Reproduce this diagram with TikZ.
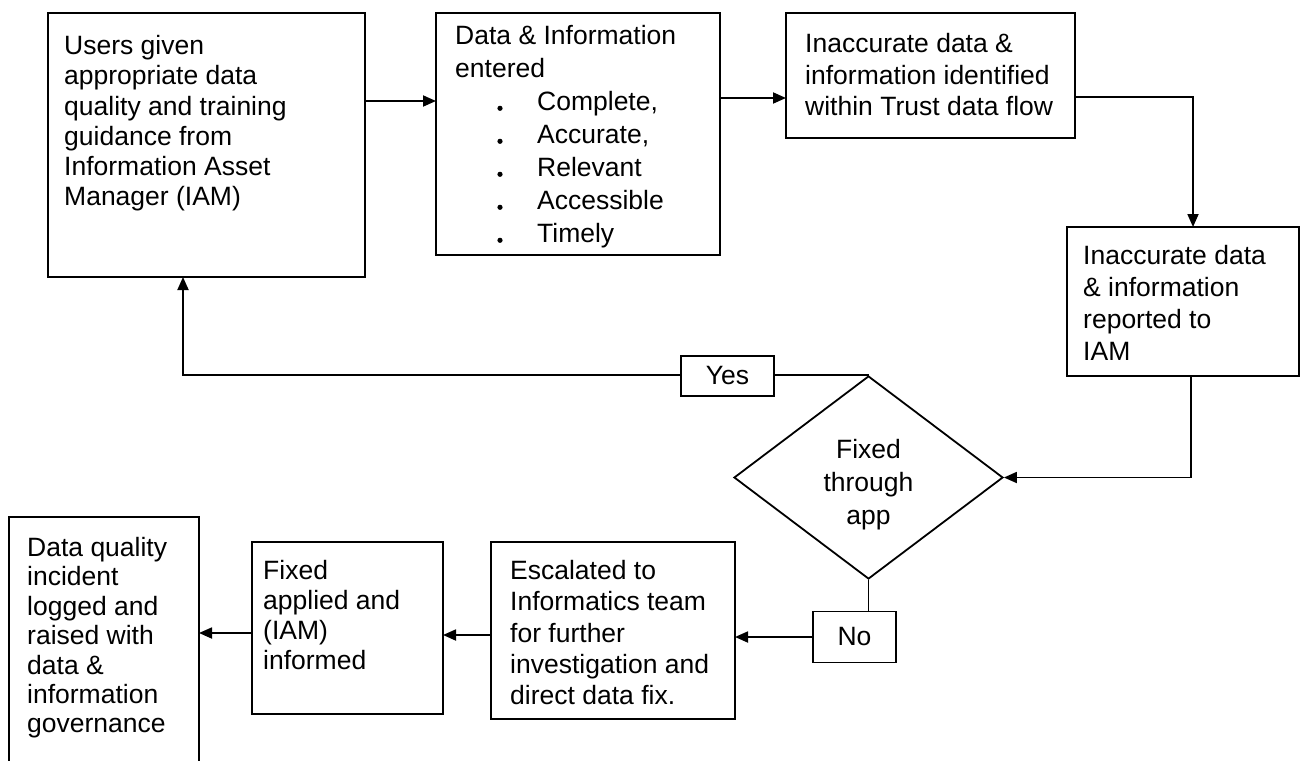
\documentclass[tikz,border=0pt]{standalone}
\usepackage{fontspec}
\setmainfont{Liberation Sans}
\usetikzlibrary{arrows.meta,shapes.geometric}
\begin{document}
\begin{tikzpicture}[x=1pt,y=-1pt,
  box/.style={draw, line width=1.8pt, rectangle, anchor=north west, inner sep=0pt, outer sep=0pt},
  txt/.style={anchor=north west, inner sep=0pt, align=left, font=\fontsize{26.5}{#1}\selectfont},
  txt/.default=31,
  conn/.style={line width=1.8pt},
  arr/.style={conn, -{Triangle[length=13pt,width=11pt]}},
  lbl/.style={draw, line width=1.8pt, inner sep=0pt, fill=white, font=\fontsize{26.5}{31}\selectfont},
  dec/.style={draw, line width=1.8pt, diamond, inner sep=0pt, aspect=1.325, minimum width=269pt, minimum height=203pt},
  dectxt/.style={inner sep=0pt, align=center, font=\fontsize{26.5}{33}\selectfont}
]
\useasboundingbox (0,0) rectangle (1303,760);
\fill[white] (0,0) rectangle (1303,760);

% boxes
\node[box, minimum width=317pt, minimum height=264pt] (b1) at (48,13) {};
\node[box, minimum width=284pt, minimum height=242pt] (b2) at (436,13) {};
\node[box, minimum width=289pt, minimum height=125pt] (b3) at (786,13) {};
\node[box, minimum width=232pt, minimum height=149pt] (b4) at (1067,227) {};
\node[box, minimum width=244pt, minimum height=177pt] (b5) at (491,542) {};
\node[box, minimum width=191pt, minimum height=172pt] (b6) at (252,542) {};
\node[box, minimum width=190pt, minimum height=270pt] (b7) at (9,517) {};
\node[dec] (d) at (868.5,477.5) {};
\node[dectxt] (dt) at (868.5,485) {Fixed\\through\\app};

% texts
\node[txt=30.3] (t1) at (64,35) {Users given\\appropriate data\\quality and training\\guidance from\\Information Asset\\Manager (IAM)};
\node[txt=33] (t2) at (455,25) {Data \& Information\\entered\\\hspace*{82pt}Complete,\\\hspace*{82pt}Accurate,\\\hspace*{82pt}Relevant\\\hspace*{82pt}Accessible\\\hspace*{82pt}Timely};
\foreach \yy in {108.3,141.3,174.3,207.3,240.3}
  \fill (500,\yy) circle (2.6pt);
\node[txt=31.7] (t3) at (805,33) {Inaccurate data \&\\information identified\\within Trust data flow};
\node[txt=32] (t4) at (1083,245) {Inaccurate data\\\& information\\reported to\\IAM};
\node[txt=31.3] (t5) at (510,560) {Escalated to\\Informatics team\\for further\\investigation and\\direct data fix.};
\node[txt=30] (t6) at (263,560) {Fixed\\applied and\\(IAM)\\informed};
\node[txt=29.4] (t7) at (27,537) {Data quality\\incident\\logged and\\raised with\\data \&\\information\\governance};

% connectors
\draw[arr] (b1.north east |- 0,101) -- (b2.west |- 0,101);
\draw[arr] (b2.east |- 0,98) -- (b3.west |- 0,98);
\draw[arr] (b3.east |- 0,97) -| (1193,0 |- b4.north);
\draw[arr] (1191,0 |- b4.south) |- (d.east);
\draw[arr] (d.north) -| (183,0 |- b1.south);
\draw[conn] (d.south) -- (d.south |- 0,612);
\coordinate (nowest) at (813,637);
\draw[arr] (nowest) -- (b5.east |- nowest);
\draw[arr] (b5.west |- 0,635) -- (b6.east |- 0,635);
\draw[arr] (b6.west |- 0,633) -- (b7.east |- 0,633);

% labels on connectors
\node[lbl, minimum width=93pt, minimum height=40pt] (yes) at (727.5,376) {Yes};
\node[lbl, minimum width=83pt, minimum height=51pt] (no) at (854.5,637) {No};
\end{tikzpicture}
\end{document}
